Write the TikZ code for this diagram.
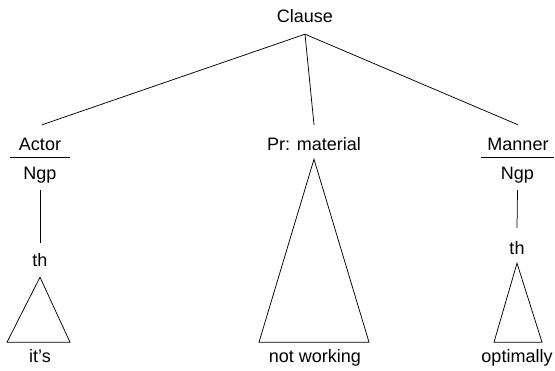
\documentclass[tikz,border=0pt]{standalone}
\usepackage{fontspec}
\setmainfont{Liberation Sans}
\begin{document}
\begin{tikzpicture}[x=1pt,y=-1pt,
  lab/.style={font=\fontsize{18}{21}\selectfont, inner sep=0pt, anchor=base, text height=13pt, text depth=4pt},
  edge/.style={line width=0.75pt, line join=miter}]
\useasboundingbox (0,0) rectangle (555,371);
% labels
\node[lab] (clause) at (305,23) {Clause};
\node[lab] (actor) at (40,151) {Actor};
\node[lab] (pr) at (314,151) {Pr: material};
\node[lab] (manner) at (518,151) {Manner};
\node[lab, minimum width=59pt] (ngpA) at (40,180) {Ngp};
\node[lab, minimum width=73pt] (ngpB) at (517.5,180) {Ngp};
\node[lab] (thA) at (40,267) {th};
\node[lab] (thB) at (517,255) {th};
\node[lab] (its) at (40,363) {it’s};
\node[lab] (notw) at (315,363) {not working};
\node[lab] (opt) at (517,363) {optimally};
% branches from clause
\draw[edge] ([yshift=-7pt]clause.south) -- ([xshift=2pt,yshift=13pt]actor.north);
\draw[edge] ([yshift=-7pt]clause.south) -- ([yshift=13pt]pr.north);
\draw[edge] ([yshift=-7pt]clause.south) -- ([yshift=13pt]manner.north);
% rules
\draw[edge] ([yshift=9pt]ngpA.north west) -- ([yshift=9pt]ngpA.north east);
\draw[edge] ([yshift=9pt]ngpB.north west) -- ([yshift=9pt]ngpB.north east);
% verticals
\draw[edge] ([yshift=-6pt]ngpA.south) -- ([yshift=11pt]thA.north);
\draw[edge] ([yshift=-6pt]ngpB.south) -- ([yshift=14pt]thB.north);
% triangles
\draw[edge] ([yshift=-6pt]thA.south) -- ++(-33,65) -- ++(63,0) -- cycle;
\draw[edge] ([yshift=-4pt]pr.south) -- ++(-55,183) -- ++(110,0) -- cycle;
\draw[edge] ([yshift=-4pt]thB.south) -- ++(-23,79) -- ++(48,0) -- cycle;
\end{tikzpicture}
\end{document}
